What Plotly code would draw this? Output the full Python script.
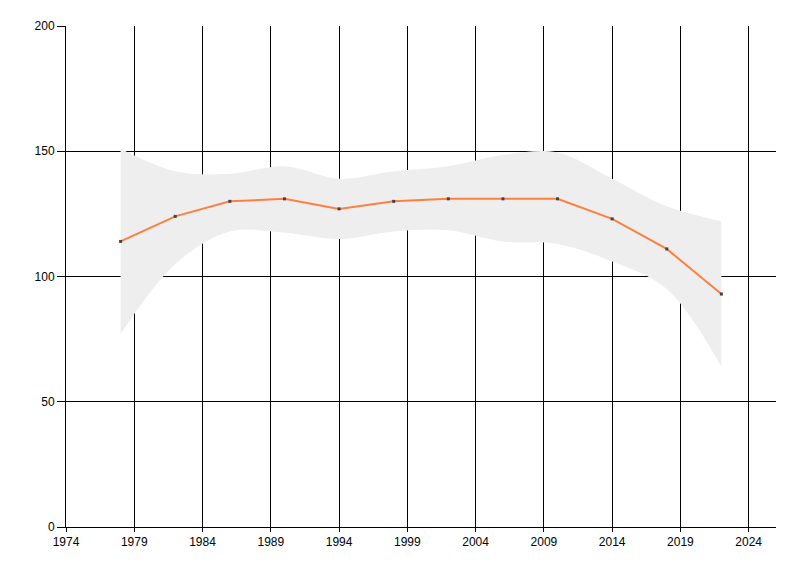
import plotly.graph_objects as go

# survey years and values
years = [1978, 1982, 1986, 1990, 1994, 1998, 2002, 2006, 2010, 2014, 2018, 2022]
mean_vals = [114, 124, 130, 131, 127, 130, 131, 131, 131, 123, 111, 93]
upper_vals = [151, 142, 141, 144, 139, 142, 144, 148.5, 149.5, 139, 128, 122]
lower_vals = [77, 105, 118, 117.5, 115, 118, 118.5, 114, 113, 106, 95, 64]

x_ticks = [1974, 1979, 1984, 1989, 1994, 1999, 2004, 2009, 2014, 2019, 2024]
y_ticks = [0, 50, 100, 150, 200]

fig = go.Figure()

# confidence band
fig.add_trace(go.Scatter(x=years, y=lower_vals, mode="lines",
                         line=dict(width=0, shape="spline", smoothing=1),
                         hoverinfo="skip", showlegend=False))
fig.add_trace(go.Scatter(x=years, y=upper_vals, mode="lines",
                         line=dict(width=0, shape="spline", smoothing=1),
                         fill="tonexty", fillcolor="#eeeeee",
                         hoverinfo="skip", showlegend=False))

# mean line
fig.add_trace(go.Scatter(x=years, y=mean_vals, mode="lines+markers",
                         line=dict(color="#ff7f3f", width=2),
                         marker=dict(color="#444444", size=3, symbol="square"),
                         showlegend=False))

fig.update_xaxes(range=[1974, 2026], tickvals=x_ticks,
                 showgrid=True, gridcolor="black", gridwidth=1,
                 showline=True, linecolor="black", linewidth=1,
                 ticks="outside", ticklen=4, tickcolor="black",
                 zeroline=False,
                 tickfont=dict(family="Liberation Sans", size=12, color="black"))
fig.update_yaxes(range=[0, 200], tickvals=y_ticks,
                 showgrid=True, gridcolor="black", gridwidth=1,
                 showline=True, linecolor="black", linewidth=1,
                 ticks="outside", ticklen=8, tickcolor="black",
                 zeroline=False,
                 tickfont=dict(family="Liberation Sans", size=12, color="black"))

# page body adds an 8px offset, so margins are shifted to compensate
fig.update_layout(width=800, height=576,
                  margin=dict(l=58, r=32, t=18, b=57),
                  plot_bgcolor="white", paper_bgcolor="white")

fig.write_html("out.html")
